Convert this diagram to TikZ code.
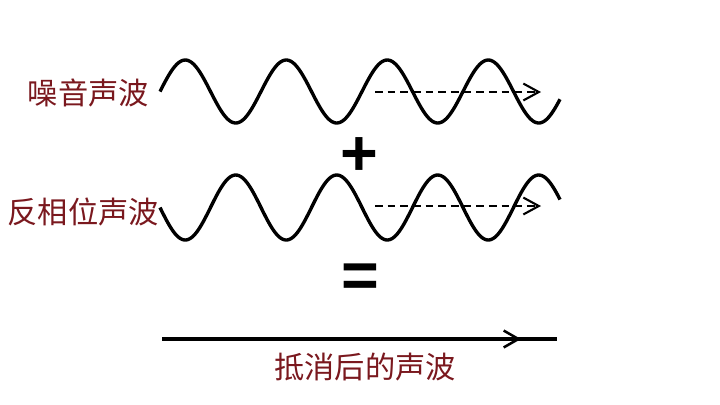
\documentclass[tikz,border=0pt]{standalone}
\usepackage{fontspec}
\setsansfont{Liberation Sans}
\newfontfamily\cjk{Noto Sans CJK SC}
\definecolor{labelred}{RGB}{122, 24, 30}
\usetikzlibrary{arrows.meta, positioning}

\begin{document}
\begin{tikzpicture}[
  x=0.025cm, y=-0.025cm,
  wave/.style={line width=2.4pt, line join=round},
  dasharr/.style={-{Straight Barb[length=11pt, width=12pt, line width=1.5pt]},
                  line width=1.4pt, dash pattern=on 5.5pt off 3.5pt},
  flat/.style={line width=2.9pt},
  lbl/.style={inner sep=0pt, text=labelred, font=\cjk\fontsize{21.5}{24}\selectfont},
  sym/.style={inner sep=0pt, font=\sffamily\bfseries\fontsize{46}{46}\selectfont}
]
  \useasboundingbox (0,0) rectangle (720,404);
  \draw[wave] plot[domain=0:400, samples=240] (160+\x, {91.5-31.5*sin(3.5644*\x)});
  \draw[wave] plot[domain=0:400, samples=240] (160+\x, {207.5+32.5*sin(3.5644*\x)});
  \node[lbl, anchor=east] (noise) at (149,93) {噪音声波};
  \node[lbl, anchor=east] (anti) at (159,212) {反相位声波};
  \node[sym] (plus) at (359,157) {+};
  \node[sym] (equal) at (360,281) {=};
  \coordinate (nA) at (375,92);
  \coordinate (nB) at (541,92);
  \coordinate (aA) at (375,206);
  \coordinate (aB) at (541,206);
  \draw[dasharr] (nA) -- (nB);
  \draw[dasharr] (aA) -- (aB);
  \coordinate (outA) at (162,339);
  \coordinate (outTip) at (521,339);
  \coordinate (outB) at (557,339);
  \draw[flat] (outA) -- (outB);
  \draw[flat, -{Straight Barb[length=10.5pt, width=12pt, line width=1.8pt]}] (outA) -- (outTip);
  \node[lbl] (result) at (365,367) {抵消后的声波};
\end{tikzpicture}
\end{document}
